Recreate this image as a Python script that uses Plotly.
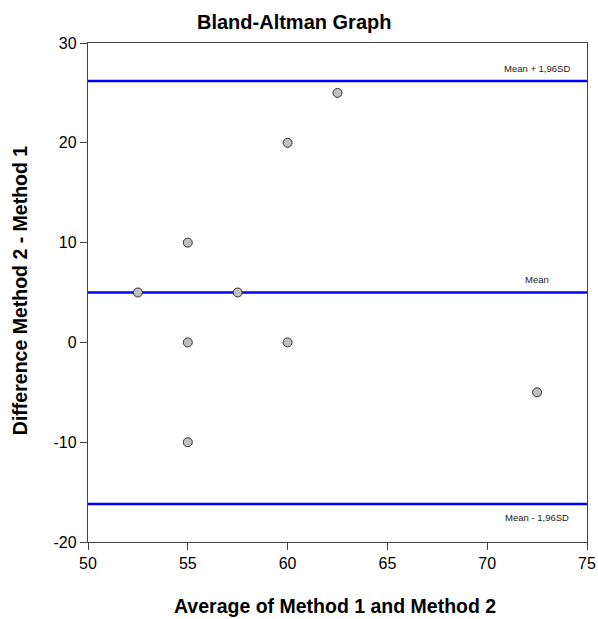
import plotly.graph_objects as go

avg_values = [52.5, 55, 55, 55, 57.5, 60, 60, 62.5, 72.5]
diff_values = [5, 10, 0, -10, 5, 20, 0, 25, -5]
line_names = ["Mean + 1,96SD", "Mean", "Mean - 1,96SD"]
line_values = [26.2, 5.0, -16.2]
x_range = [50, 75]
y_range = [-20, 30]
x_ticks = [50, 55, 60, 65, 70, 75]
y_ticks = [-20, -10, 0, 10, 20, 30]
y_tick_text = ["-20", "-10", "0", "10", "20", "30"]

FONT = "Liberation Sans, Arial"

fig = go.Figure()

for name, val in zip(line_names, line_values):
    fig.add_trace(go.Scatter(x=x_range, y=[val, val], mode="lines",
                             line=dict(color="#0000ff", width=2.5),
                             hoverinfo="skip", showlegend=False))

fig.add_trace(go.Scatter(x=avg_values, y=diff_values, mode="markers",
                         marker=dict(size=9, color="#c0c0c0",
                                     line=dict(color="#303030", width=1)),
                         showlegend=False))

label_offsets = [12, 13, -13]
for name, val, off in zip(line_names, line_values, label_offsets):
    fig.add_annotation(x=72.5, y=val, text=name, showarrow=False,
                       xanchor="center", yanchor="middle", yshift=off,
                       font=dict(size=9.5, color="#222222", family=FONT))

fig.add_annotation(text="<b>Difference Method 2 - Method 1</b>", textangle=-90,
                   xref="paper", yref="paper", x=-0.136, y=0.503,
                   xanchor="center", yanchor="middle", showarrow=False,
                   font=dict(size=19.5, color="black", family=FONT))
fig.add_annotation(text="<b>Average of Method 1 and Method 2</b>",
                   xref="paper", yref="paper", x=0.495, y=-0.128,
                   xanchor="center", yanchor="middle", showarrow=False,
                   font=dict(size=19.5, color="black", family=FONT))

fig.update_layout(
    width=598, height=619,
    margin=dict(l=88, r=11, t=43, b=77, autoexpand=False),
    paper_bgcolor="white", plot_bgcolor="white",
    font=dict(family=FONT, color="black", size=15),
    title=dict(text="<b>Bland-Altman Graph</b>", xref="container", x=0.492,
               xanchor="center", yref="container", y=0.964, yanchor="middle",
               font=dict(size=20)),
)
fig.update_xaxes(range=x_range, tickvals=x_ticks, ticks="outside", ticklen=7,
                 tickcolor="#444", showline=True, linecolor="#444", linewidth=1.3,
                 mirror=True, showgrid=False, zeroline=False, automargin=False,
                 ticklabeloverflow="allow", tickfont=dict(size=16))
fig.update_yaxes(range=y_range, tickvals=y_ticks, ticktext=y_tick_text,
                 ticks="outside", ticklen=7,
                 tickcolor="#444", showline=True, linecolor="#444", linewidth=1.3,
                 mirror=True, showgrid=False, zeroline=False, automargin=False,
                 tickfont=dict(size=16))

fig.write_html("out.html", config={"displayModeBar": False},
               post_script="document.body.style.margin='0';document.body.style.overflow='hidden';")
